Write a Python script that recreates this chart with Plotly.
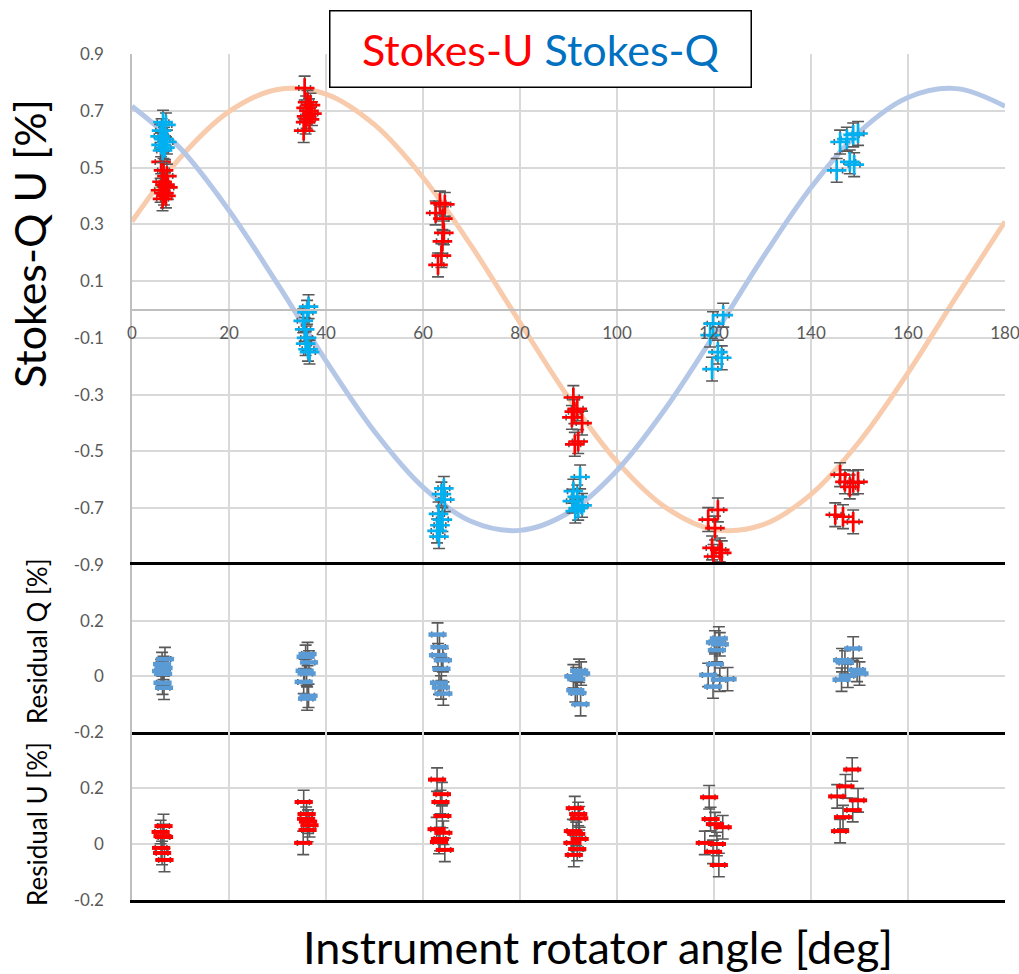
import plotly.graph_objects as go

# ---------------- data ----------------
CURVE_THETA = [0, 10, 20, 30, 40, 50, 60, 70, 80, 90, 100, 110, 120, 130, 140, 150, 160, 170, 180]
CURVE_U = [0.31, 0.536, 0.697, 0.775, 0.759, 0.651, 0.465, 0.223, -0.046, -0.31, -0.536, -0.697,
           -0.775, -0.759, -0.651, -0.465, -0.223, 0.046, 0.31]
CURVE_Q = [0.716, 0.567, 0.349, 0.09, -0.181, -0.43, -0.626, -0.747, -0.778, -0.716, -0.567, -0.349,
           -0.09, 0.181, 0.43, 0.626, 0.747, 0.778, 0.716]

U_THETA = [6.0, 6.5, 7.2, 6.2, 6.8, 7.4, 5.9, 6.6, 7.0, 6.3,
           35.6, 36.2, 36.8, 35.9, 36.5, 37.1, 36.0, 36.6, 35.8, 35.4,
           63.5, 64.5, 62.6, 64.1, 64.3, 64.0, 63.8, 63.1,
           91.0, 91.8, 90.7, 92.8, 92.0, 91.3, 91.2,
           120.8, 118.8, 120.2, 119.6, 121.2, 121.6, 119.9,
           146.0, 147.0, 148.7, 149.7, 148.0, 145.0, 146.6, 148.7]
U_VALUE = [0.52, 0.49, 0.47, 0.45, 0.44, 0.43, 0.42, 0.41, 0.40, 0.39,
           0.78, 0.73, 0.72, 0.71, 0.70, 0.69, 0.68, 0.67, 0.66, 0.63,
           0.375, 0.37, 0.34, 0.32, 0.27, 0.24, 0.19, 0.157,
           -0.31, -0.35, -0.38, -0.40, -0.465, -0.475, -0.36,
           -0.706, -0.74, -0.77, -0.84, -0.847, -0.857, -0.87,
           -0.582, -0.607, -0.61, -0.607, -0.625, -0.723, -0.73, -0.748]

Q_THETA = [6.4, 7.0, 6.1, 5.8, 6.6, 7.2, 6.0, 6.8, 6.3,
           36.4, 36.1, 35.3, 35.6, 36.0, 35.8, 36.3, 36.6,
           64.3, 63.8, 64.5, 63.2, 64.0, 63.5, 62.9, 63.3,
           92.4, 91.0, 91.8, 90.8, 92.8, 92.0, 91.4,
           121.9, 119.8, 119.2, 120.8, 121.6, 119.6,
           149.7, 148.7, 147.4, 146.0, 148.0, 148.9, 145.3]
Q_VALUE = [0.66, 0.65, 0.63, 0.61, 0.60, 0.59, 0.58, 0.57, 0.56,
           0.01, -0.01, -0.04, -0.07, -0.10, -0.12, -0.14, -0.15,
           -0.63, -0.65, -0.67, -0.72, -0.74, -0.76, -0.78, -0.80,
           -0.59, -0.64, -0.66, -0.675, -0.69, -0.70, -0.71,
           -0.02, -0.05, -0.09, -0.15, -0.17, -0.21,
           0.62, 0.615, 0.60, 0.59, 0.52, 0.51, 0.49]

RQ_THETA = [6.8, 6.2, 6.5, 6.0, 6.4, 6.3, 6.6,
            36.2, 35.8, 36.5, 35.6, 36.0, 35.4, 36.4, 36.1,
            63.0, 63.4, 63.1, 64.1, 63.8, 63.3, 63.7, 64.2,
            92.2, 92.6, 91.0, 91.6, 91.4, 91.8, 92.5,
            121.0, 120.2, 121.2, 120.6, 120.2, 118.8, 121.2, 119.8, 122.8,
            148.7, 146.4, 147.0, 149.5, 150.0, 147.6, 146.3]
RQ_VALUE = [0.062, 0.044, 0.030, 0.019, 0.009, -0.023, -0.041,
            0.08, 0.07, 0.05, 0.02, 0.01, -0.02, -0.07, -0.08,
            0.15, 0.105, 0.076, 0.058, 0.027, -0.023, -0.04, -0.062,
            0.02, 0.01, 0.0, -0.01, -0.05, -0.06, -0.10,
            0.136, 0.122, 0.115, 0.094, 0.044, 0.005, -0.012, -0.037, -0.01,
            0.10, 0.058, 0.05, 0.023, 0.01, 0.002, -0.012]

RU_THETA = [6.5, 5.9, 6.3, 6.6, 6.0, 6.2, 6.7,
            35.4, 36.0, 36.3, 36.6, 36.2, 35.3, 35.9,
            62.9, 63.9, 63.6, 64.0, 62.8, 64.2, 63.5, 63.3, 64.5,
            91.3, 92.0, 92.2, 90.9, 91.6, 92.3, 90.8, 91.8, 91.1,
            119.0, 119.3, 120.2, 121.8, 118.1, 120.6, 119.8, 121.0,
            148.5, 147.1, 145.4, 149.7, 148.6, 146.6, 146.0]
RU_VALUE = [0.064, 0.043, 0.028, 0.025, -0.014, -0.032, -0.057,
            0.15, 0.107, 0.08, 0.067, 0.05, 0.004, 0.09,
            0.23, 0.178, 0.15, 0.10, 0.053, 0.04, 0.018, 0.007, -0.021,
            0.128, 0.107, 0.092, 0.046, 0.036, 0.018, 0.004, -0.018, -0.039,
            0.167, 0.089, 0.071, 0.060, 0.004, 0.0, -0.028, -0.075,
            0.266, 0.206, 0.17, 0.156, 0.121, 0.096, 0.046]

ERR_Y = 0.042     # symmetric measurement error [%]
ERR_X = 1.2       # angle error [deg]

X_TICKS = [0, 20, 40, 60, 80, 100, 120, 140, 160, 180]
TOP_TICKS = [-0.9, -0.7, -0.5, -0.3, -0.1, 0.1, 0.3, 0.5, 0.7, 0.9]
TOP_TICKTEXT = ["-0.9", "-0.7", "-0.5", "-0.3", "-0.1", "0.1", "0.3", "0.5", "0.7", "0.9"]
RES_TICKS = [-0.2, 0, 0.2]
RES_TICKTEXT = ["-0.2", "0", "0.2"]

# ---------------- styling ----------------
FONT = "Lato"
RED = "#FF0000"
CYAN = "#00B0F0"
RQ_BLUE = "#5B9BD5"
ERR_GRAY = "#595959"
GRID = "#D9D9D9"
AXGRAY = "#BFBFBF"
TICKC = "#595959"

W, H = 1019, 974
L, R, T, B = 132, 14, 54, 74
ph = H - T - B
d_bot = (0, 168 / ph)
d_mid = (168 / ph, 335 / ph)
d_top = (335 / ph, 1)
zero_pos = d_top[0] + 0.5 * (d_top[1] - d_top[0])

def err(v, w=5):
    return dict(type="constant", value=v, color=ERR_GRAY, thickness=1.6, width=w)

fig = go.Figure()

# model curves
fig.add_trace(go.Scatter(x=CURVE_THETA, y=CURVE_U, mode="lines", line=dict(color="#F8CBAD", width=5, shape="spline"),
                         xaxis="x", yaxis="y", hoverinfo="skip"))
fig.add_trace(go.Scatter(x=CURVE_THETA, y=CURVE_Q, mode="lines", line=dict(color="#B4C7E7", width=5, shape="spline"),
                         xaxis="x", yaxis="y", hoverinfo="skip"))

# top data
fig.add_trace(go.Scatter(x=U_THETA, y=U_VALUE, mode="markers", xaxis="x", yaxis="y",
                         marker=dict(symbol="cross-thin", size=14, color=RED, line=dict(color=RED, width=2.7)),
                         error_y=err(ERR_Y, 6), error_x=err(ERR_X, 3)))
fig.add_trace(go.Scatter(x=Q_THETA, y=Q_VALUE, mode="markers", xaxis="x", yaxis="y",
                         marker=dict(symbol="cross-thin", size=14, color=CYAN, line=dict(color=CYAN, width=2.7)),
                         error_y=err(ERR_Y, 6), error_x=err(ERR_X, 3)))

# residual Q
fig.add_trace(go.Scatter(x=RQ_THETA, y=RQ_VALUE, mode="markers", xaxis="x2", yaxis="y2",
                         marker=dict(symbol="line-ew", size=13, color=RQ_BLUE, line=dict(color=RQ_BLUE, width=4.5)),
                         error_y=err(ERR_Y, 6), error_x=err(ERR_X, 3)))
# residual U
fig.add_trace(go.Scatter(x=RU_THETA, y=RU_VALUE, mode="markers", xaxis="x3", yaxis="y3",
                         marker=dict(symbol="line-ew", size=13, color=RED, line=dict(color=RED, width=4)),
                         error_y=err(ERR_Y, 6), error_x=err(ERR_X, 3)))

tickfont = dict(family=FONT, size=17, color=TICKC)

xcommon = dict(range=[0, 180], tickvals=X_TICKS, showgrid=True, gridcolor=GRID, gridwidth=1.5,
               zeroline=False, ticks="", automargin=False, fixedrange=True)

fig.update_layout(
    template="none",
    width=W, height=H,
    margin=dict(l=L, r=R, t=T, b=B),
    paper_bgcolor="white", plot_bgcolor="white",
    showlegend=False,
    font=dict(family=FONT, color="black"),
    xaxis=dict(**xcommon, anchor="free", position=zero_pos, showline=True, linecolor=AXGRAY, linewidth=1.5,
               tickfont=tickfont, ticklabelstandoff=8, ticklabeloverflow="allow"),
    xaxis2=dict(**xcommon, anchor="y2", showline=True, linecolor="black", linewidth=2.5, mirror=True,
                showticklabels=False),
    xaxis3=dict(**xcommon, anchor="y3", showline=True, linecolor="black", linewidth=2.5, mirror=False,
                showticklabels=False),
    yaxis=dict(domain=list(d_top), range=[-0.9, 0.9], tickvals=TOP_TICKS, ticktext=TOP_TICKTEXT,
               showgrid=True, gridcolor=GRID, gridwidth=1.5, zeroline=False, showline=True, linecolor=AXGRAY,
               linewidth=1.5, ticks="", tickfont=tickfont, ticklabelstandoff=23, automargin=False, anchor="x"),
    yaxis2=dict(domain=list(d_mid), range=[-0.2, 0.4], tickvals=RES_TICKS, ticktext=RES_TICKTEXT,
                showgrid=True, gridcolor=GRID, gridwidth=1.5, zeroline=False, showline=True, linecolor=AXGRAY,
                linewidth=1.5, ticks="", tickfont=tickfont, ticklabelstandoff=23, automargin=False, anchor="x2"),
    yaxis3=dict(domain=list(d_bot), range=[-0.2, 0.4], tickvals=RES_TICKS, ticktext=RES_TICKTEXT,
                showgrid=True, gridcolor=GRID, gridwidth=1.5, zeroline=False, showline=True, linecolor=AXGRAY,
                linewidth=1.5, ticks="", tickfont=tickfont, ticklabelstandoff=23, automargin=False, anchor="x3"),
)

def px_x(px):
    return (px - L) / (W - L - R)

def px_y(py):
    return (H - B - py) / ph

annos = [
    dict(text="<span style='color:#FF0000'>Stokes-U</span> <span style='color:#0070C0'>Stokes-Q</span>",
         x=px_x(540), y=px_y(49), xref="paper", yref="paper", xanchor="center", yanchor="middle",
         showarrow=False, font=dict(family=FONT, size=43), bgcolor="white", bordercolor="black",
         borderwidth=1.5, borderpad=0, width=420, height=75),
    dict(text="Stokes-Q U [%]", x=px_x(29), y=px_y(244), xref="paper", yref="paper", textangle=-90,
         showarrow=False, font=dict(family=FONT, size=43, color="black"), xanchor="center", yanchor="middle"),
    dict(text="Residual Q [%]", x=px_x(37), y=px_y(641), xref="paper", yref="paper", textangle=-90,
         showarrow=False, font=dict(family=FONT, size=26, color="black"), xanchor="center", yanchor="middle"),
    dict(text="Residual U [%]", x=px_x(37), y=px_y(824), xref="paper", yref="paper", textangle=-90,
         showarrow=False, font=dict(family=FONT, size=26, color="black"), xanchor="center", yanchor="middle"),
    dict(text="Instrument rotator angle [deg]", x=px_x(598), y=px_y(947), xref="paper", yref="paper",
         showarrow=False, font=dict(family=FONT, size=45, color="black"), xanchor="center", yanchor="middle"),
]
fig.update_layout(annotations=annos)

fig.write_html("out.html")
